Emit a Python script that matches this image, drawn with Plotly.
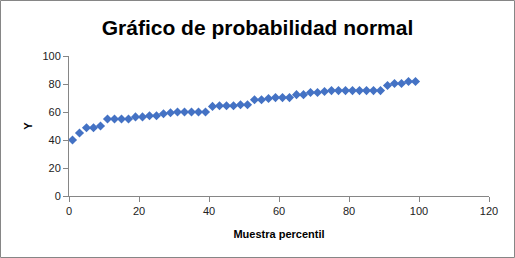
import plotly.graph_objects as go

percentil = [1, 3, 5, 7, 9, 11, 13, 15, 17, 19, 21, 23, 25, 27, 29, 31, 33, 35, 37, 39,
             41, 43, 45, 47, 49, 51, 53, 55, 57, 59, 61, 63, 65, 67, 69, 71, 73, 75, 77, 79,
             81, 83, 85, 87, 89, 91, 93, 95, 97, 99]
y_vals = [40, 45, 48.7, 48.7, 50, 55, 55, 55, 55, 56.5, 56.5, 57.3, 57.3, 58.8, 59.5, 60, 60, 60, 60, 60,
          64, 64.5, 64.5, 64.5, 65.2, 65.2, 68.8, 68.8, 69.6, 70.3, 70.3, 70.3, 72.4, 72.4, 73.9, 73.9, 74.6, 75.3, 75.3, 75.3,
          75.3, 75.3, 75.3, 75.3, 75.3, 78.9, 80.4, 80.4, 81.8, 81.8]

title_text = "Gráfico de probabilidad normal"
x_title = "Muestra percentil"
y_title = "Y"

fig = go.Figure()
fig.add_trace(go.Scatter(
    x=percentil, y=y_vals, mode="markers",
    marker=dict(symbol="diamond", size=7, color="#4472C4", line=dict(width=0)),
    showlegend=False, cliponaxis=False,
))

font_family = "Liberation Sans, Arial, sans-serif"
fig.update_layout(
    width=515, height=258,
    margin=dict(l=69, r=26, t=56, b=62, autoexpand=False),
    paper_bgcolor="white", plot_bgcolor="white",
    font=dict(family=font_family, size=11, color="#222"),
    title=dict(text="<b>" + title_text + "</b>", x=0.5, xanchor="center",
               y=1 - 28 / 258, yanchor="middle", automargin=False,
               font=dict(size=21, color="black", family=font_family)),
    xaxis=dict(range=[0, 120], tickvals=[0, 20, 40, 60, 80, 100, 120], automargin=False,
               showgrid=False, zeroline=False, showline=True, linecolor="#868686", linewidth=1,
               ticks="outside", ticklen=5, tickcolor="#868686",
               tickfont=dict(size=11, color="#222"),
               title=dict(text="<b>" + x_title + "</b>", font=dict(size=11, color="black"), standoff=14)),
    yaxis=dict(range=[0, 100], tickvals=[0, 20, 40, 60, 80, 100], automargin=False,
               showgrid=False, zeroline=False, showline=True, linecolor="#868686", linewidth=1,
               ticks="outside", ticklen=5, tickcolor="#868686",
               tickfont=dict(size=11, color="#222"),
               title=dict(text="<b>" + y_title + "</b>", font=dict(size=11, color="black"), standoff=7)),
    shapes=[dict(type="rect", xref="paper", yref="paper",
                 x0=-68.5 / 420, x1=1 + 25.5 / 420, y0=-61.5 / 140, y1=1 + 55.5 / 140,
                 line=dict(color="#868686", width=1), fillcolor="rgba(0,0,0,0)", layer="below")],
)

fig.write_html("out.html", config={"displayModeBar": False},
               post_script="document.body.style.margin='0';")
